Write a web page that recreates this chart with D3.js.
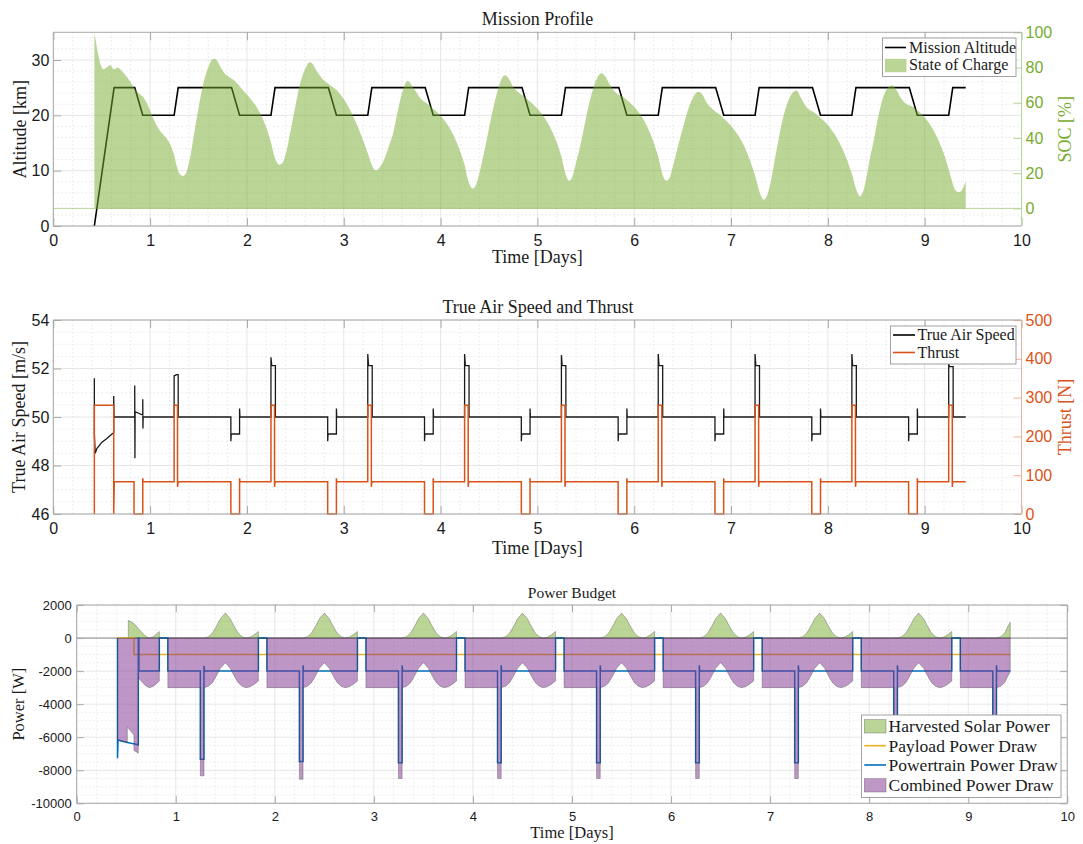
<!DOCTYPE html>
<html>
<head>
<meta charset="utf-8">
<script src="https://cdn.jsdelivr.net/npm/d3@7"></script>
<style>
  body { margin: 0; background: #fff; }
</style>
</head>
<body>
<script>
// ---- tick labels ----
const dayTicks = [0, 1, 2, 3, 4, 5, 6, 7, 8, 9, 10];
const altTicks = [0, 10, 20, 30];
const socTicks = [0, 20, 40, 60, 80, 100];
const tasTicks = [46, 48, 50, 52, 54];
const thrustTicks = [0, 100, 200, 300, 400, 500];
const powerTicks = [-10000, -8000, -6000, -4000, -2000, 0, 2000];

// ---- mission altitude [km] ----
const altDays = [0.424, 0.628, 0.841, 0.924, 1.248, 1.29, 1.841, 1.924, 2.248, 2.29, 2.841, 2.924,
  3.248, 3.29, 3.841, 3.924, 4.248, 4.29, 4.841, 4.924, 5.248, 5.29, 5.841, 5.924, 6.248, 6.29,
  6.841, 6.924, 7.248, 7.29, 7.841, 7.924, 8.248, 8.29, 8.841, 8.924, 9.248, 9.29, 9.424];
const altKm = [0, 25, 25, 20, 20, 25, 25, 20, 20, 25, 25, 20, 20, 25, 25, 20, 20, 25, 25, 20, 20,
  25, 25, 20, 20, 25, 25, 20, 20, 25, 25, 20, 20, 25, 25, 20, 20, 25, 25];

// ---- state of charge [%] ----
const socDays = [
  0.424, 0.517, 0.55, 0.586, 0.628, 0.666, 0.70, 0.759, 0.80, 0.845, 0.88, 0.931, 1.069, 1.245,
  1.27, 1.30, 1.338, 1.37, 1.41, 1.45, 1.50, 1.55, 1.60, 1.64, 1.665, 1.69, 1.73, 1.78, 1.82, 1.86, 1.93,
  2.25, 2.276, 2.30, 2.338, 2.37, 2.41, 2.45, 2.50, 2.55, 2.60, 2.648, 2.68, 2.72, 2.78, 2.82, 2.86, 2.93,
  3.25, 3.28, 3.31, 3.335, 3.36, 3.42, 3.47, 3.51, 3.56, 3.61, 3.662, 3.70, 3.75, 3.80, 3.85, 3.886,
  4.248, 4.27, 4.30, 4.334, 4.37, 4.41, 4.45, 4.49, 4.54, 4.59, 4.63, 4.662, 4.70, 4.75, 4.817, 4.886,
  5.248, 5.27, 5.30, 5.328, 5.36, 5.40, 5.44, 5.47, 5.52, 5.57, 5.62, 5.662, 5.70, 5.75, 5.817, 5.903,
  6.248, 6.27, 6.30, 6.334, 6.37, 6.41, 6.46, 6.507, 6.55, 6.60, 6.662, 6.70, 6.75, 6.817, 6.886,
  7.252, 7.28, 7.31, 7.338, 7.37, 7.41, 7.45, 7.49, 7.54, 7.59, 7.64, 7.676, 7.72, 7.786, 7.855,
  8.252, 8.28, 8.31, 8.331, 8.36, 8.40, 8.44, 8.476, 8.52, 8.57, 8.62, 8.666, 8.70, 8.75, 8.80, 8.872,
  9.25, 9.28, 9.31, 9.345, 9.37, 9.40, 9.424
];
const socPct = [
  100, 79, 80, 81.5, 79, 80, 78.5, 74.8, 71.5, 67.7, 65.5, 63, 47, 31,
  25, 20, 18.5, 20, 28, 41, 57, 71, 80, 84.5, 85, 84, 80, 76, 74.5, 73, 69,
  37, 31, 27, 24.8, 26, 33, 44, 58, 71, 79, 83, 82, 78, 73.5, 71.5, 70, 67,
  31, 26, 22.5, 21.5, 22.5, 28, 36, 42.7, 56, 67, 72.5, 70, 66, 62, 60, 58.5,
  24.8, 19, 13.5, 11.3, 14, 22, 32, 42.7, 56, 67, 73.5, 75.6, 74, 69, 65.4, 62.6,
  29.5, 24, 18, 15.7, 18, 26, 35, 42.7, 56, 67, 74.5, 76.7, 75, 70, 65.4, 62.6,
  29.5, 24, 18, 15.7, 18, 26, 37, 46.5, 55, 62, 66.2, 65, 60, 56, 53,
  18, 12, 7, 4.9, 7, 15, 27, 39, 52, 61, 66, 67, 63, 57, 54.6,
  19, 13, 8.5, 6.8, 9, 18, 30, 39, 52, 63, 68.5, 70, 68, 63, 59.7, 57.8,
  22, 16, 11, 9.3, 9.5, 12, 15.3
];

// ---- true air speed [m/s] ----
const tasDays = [
  0.424, 0.424, 0.433, 0.45, 0.50, 0.55, 0.60, 0.624, 0.624, 0.628, 0.841, 0.841, 0.843, 0.845, 0.924, 0.924, 0.926, 0.928,
  1.248, 1.248, 1.265, 1.268, 1.29, 1.29,
  1.834, 1.834, 1.838, 1.924, 1.924, 1.928, 2.248, 2.248, 2.256, 2.294, 2.294,
  2.834, 2.834, 2.838, 2.924, 2.924, 2.928, 3.248, 3.248, 3.256, 3.294, 3.294,
  3.834, 3.834, 3.838, 3.924, 3.924, 3.928, 4.248, 4.248, 4.256, 4.294, 4.294,
  4.834, 4.834, 4.838, 4.924, 4.924, 4.928, 5.248, 5.248, 5.256, 5.294, 5.294,
  5.834, 5.834, 5.838, 5.924, 5.924, 5.928, 6.248, 6.248, 6.256, 6.294, 6.294,
  6.834, 6.834, 6.838, 6.924, 6.924, 6.928, 7.248, 7.248, 7.256, 7.294, 7.294,
  7.834, 7.834, 7.838, 7.924, 7.924, 7.928, 8.248, 8.248, 8.256, 8.294, 8.294,
  8.834, 8.834, 8.838, 8.924, 8.924, 8.928, 9.248, 9.248, 9.256, 9.294, 9.294, 9.424
];
const tasMs = [
  51.6, 49.3, 48.5, 48.7, 48.95, 49.1, 49.28, 49.35, 50.87, 50, 50, 51.3, 48.3, 50.22, 50.08, 50.73, 49.53, 50,
  50, 51.7, 51.72, 51.75, 51.75, 50,
  50, 49.0, 49.3, 49.3, 50.35, 50, 50, 52.46, 52.12, 52.12, 50,
  50, 49.0, 49.3, 49.3, 50.35, 50, 50, 52.6, 52.12, 52.12, 50,
  50, 49.0, 49.3, 49.3, 50.35, 50, 50, 52.6, 52.12, 52.12, 50,
  50, 49.0, 49.3, 49.3, 50.35, 50, 50, 52.55, 52.12, 52.12, 50,
  50, 49.0, 49.3, 49.3, 50.35, 50, 50, 52.6, 52.12, 52.12, 50,
  50, 49.0, 49.3, 49.3, 50.35, 50, 50, 52.6, 52.12, 52.12, 50,
  50, 49.0, 49.3, 49.3, 50.35, 50, 50, 52.6, 52.12, 52.12, 50,
  50, 49.0, 49.3, 49.3, 50.35, 50, 50, 52.19, 52.08, 52.08, 50, 50
];

// ---- thrust [N] ----
const thrustDays = [
  0.424, 0.424, 0.624, 0.624, 0.63, 0.834, 0.834, 0.924, 0.924, 0.928,
  1.248, 1.248, 1.283, 1.283, 1.29,
  1.834, 1.834, 1.924, 1.924, 1.928, 2.248, 2.248, 2.285, 2.285, 2.29,
  2.834, 2.834, 2.924, 2.924, 2.928, 3.248, 3.248, 3.285, 3.285, 3.29,
  3.834, 3.834, 3.924, 3.924, 3.928, 4.248, 4.248, 4.285, 4.285, 4.29,
  4.834, 4.834, 4.924, 4.924, 4.928, 5.248, 5.248, 5.285, 5.285, 5.29,
  5.834, 5.834, 5.924, 5.924, 5.928, 6.248, 6.248, 6.285, 6.285, 6.29,
  6.834, 6.834, 6.924, 6.924, 6.928, 7.248, 7.248, 7.285, 7.285, 7.29,
  7.834, 7.834, 7.924, 7.924, 7.928, 8.248, 8.248, 8.285, 8.285, 8.29,
  8.834, 8.834, 8.924, 8.924, 8.928, 9.248, 9.248, 9.285, 9.285, 9.29, 9.424
];
const thrustN = [
  0, 280, 280, 0, 83, 83, 0, 0, 92, 83,
  83, 280, 280, 70, 83,
  83, 0, 0, 92, 83, 83, 280, 280, 70, 83,
  83, 0, 0, 92, 83, 83, 280, 280, 70, 83,
  83, 0, 0, 92, 83, 83, 280, 280, 70, 83,
  83, 0, 0, 92, 83, 83, 280, 280, 70, 83,
  83, 0, 0, 92, 83, 83, 280, 280, 70, 83,
  83, 0, 0, 92, 83, 83, 280, 280, 70, 83,
  83, 0, 0, 92, 83, 83, 280, 280, 70, 83,
  83, 0, 0, 92, 83, 83, 280, 280, 70, 83, 83
];

// ---- power budget [W] ----
const solarDays = [
  0.521, 0.521, 0.55, 0.59, 0.63, 0.67, 0.70, 0.735, 0.77, 0.80, 0.834, 0.834,
  1.285, 1.33, 1.37, 1.41, 1.45, 1.50, 1.55, 1.59, 1.63, 1.67, 1.71, 1.75, 1.79, 1.834, 1.834,
  2.285, 2.33, 2.37, 2.41, 2.45, 2.50, 2.55, 2.59, 2.63, 2.67, 2.71, 2.75, 2.79, 2.834, 2.834,
  3.285, 3.33, 3.37, 3.41, 3.45, 3.50, 3.55, 3.59, 3.63, 3.67, 3.71, 3.75, 3.79, 3.834, 3.834,
  4.285, 4.33, 4.37, 4.41, 4.45, 4.50, 4.55, 4.59, 4.63, 4.67, 4.71, 4.75, 4.79, 4.834, 4.834,
  5.285, 5.33, 5.37, 5.41, 5.45, 5.50, 5.55, 5.59, 5.63, 5.67, 5.71, 5.75, 5.79, 5.834, 5.834,
  6.285, 6.33, 6.37, 6.41, 6.45, 6.50, 6.55, 6.59, 6.63, 6.67, 6.71, 6.75, 6.79, 6.834, 6.834,
  7.285, 7.33, 7.37, 7.41, 7.45, 7.50, 7.55, 7.59, 7.63, 7.67, 7.71, 7.75, 7.79, 7.834, 7.834,
  8.285, 8.33, 8.37, 8.41, 8.45, 8.50, 8.55, 8.59, 8.63, 8.67, 8.71, 8.75, 8.79, 8.834, 8.834,
  9.285, 9.33, 9.37, 9.40, 9.424, 9.424
];
const solarW = [
  0, 1067, 1000, 800, 520, 260, 100, 0, 70, 210, 400, 0,
  0, 80, 300, 700, 1170, 1510, 1170, 700, 300, 80, 0, 50, 190, 400, 0,
  0, 80, 300, 700, 1170, 1510, 1170, 700, 300, 80, 0, 50, 190, 400, 0,
  0, 80, 300, 700, 1170, 1510, 1170, 700, 300, 80, 0, 50, 190, 400, 0,
  0, 80, 300, 700, 1170, 1510, 1170, 700, 300, 80, 0, 50, 190, 400, 0,
  0, 80, 300, 700, 1170, 1510, 1170, 700, 300, 80, 0, 50, 190, 400, 0,
  0, 80, 300, 700, 1170, 1510, 1170, 700, 300, 80, 0, 50, 190, 400, 0,
  0, 80, 300, 700, 1170, 1510, 1170, 700, 300, 80, 0, 50, 190, 400, 0,
  0, 80, 300, 700, 1170, 1510, 1170, 700, 300, 80, 0, 50, 190, 400, 0,
  0, 80, 320, 700, 950, 0
];

const payloadDays = [0.412, 0.578, 0.578, 9.424];
const payloadW = [0, 0, -1000, -1000];

const powertrainDays = [
  0.412, 0.412, 0.418, 0.45, 0.50, 0.55, 0.60, 0.622, 0.622, 0.628, 0.628, 0.834, 0.834, 0.92, 0.92,
  1.248, 1.248, 1.285, 1.285, 1.29, 1.834, 1.834, 1.92, 1.92,
  2.248, 2.248, 2.285, 2.285, 2.29, 2.834, 2.834, 2.92, 2.92,
  3.248, 3.248, 3.285, 3.285, 3.29, 3.834, 3.834, 3.92, 3.92,
  4.248, 4.248, 4.285, 4.285, 4.29, 4.834, 4.834, 4.92, 4.92,
  5.248, 5.248, 5.285, 5.285, 5.29, 5.834, 5.834, 5.92, 5.92,
  6.248, 6.248, 6.285, 6.285, 6.29, 6.834, 6.834, 6.92, 6.92,
  7.248, 7.248, 7.285, 7.285, 7.29, 7.834, 7.834, 7.92, 7.92,
  8.248, 8.248, 8.285, 8.285, 8.29, 8.834, 8.834, 8.92, 8.92,
  9.248, 9.248, 9.285, 9.285, 9.29, 9.424
];
const powertrainW = [
  0, -7270, -6160, -6230, -6300, -6370, -6430, -6470, 0, 0, -2000, -2000, 0, 0, -2000,
  -2000, -7330, -7330, -1680, -2000, -2000, 0, 0, -2000,
  -2000, -7475, -7475, -1650, -2000, -2000, 0, 0, -2000,
  -2000, -7540, -7540, -1650, -2000, -2000, 0, 0, -2000,
  -2000, -7540, -7540, -1650, -2000, -2000, 0, 0, -2000,
  -2000, -7540, -7540, -1650, -2000, -2000, 0, 0, -2000,
  -2000, -7540, -7540, -1650, -2000, -2000, 0, 0, -2000,
  -2000, -7540, -7540, -1650, -2000, -2000, 0, 0, -2000,
  -2000, -7540, -7540, -1650, -2000, -2000, 0, 0, -2000,
  -2000, -7540, -7540, -1650, -2000, -2000
];

const combinedDays = [
  0.412, 0.412, 0.45, 0.511, 0.511, 0.54, 0.578, 0.578, 0.60, 0.622, 0.622, 0.67, 0.70, 0.735, 0.77, 0.80, 0.834, 0.834,
  0.92, 0.92, 1.248, 1.248, 1.285, 1.285, 1.33, 1.37, 1.41, 1.45, 1.50, 1.55, 1.59, 1.63, 1.67, 1.71, 1.75, 1.79, 1.834, 1.834,
  1.92, 1.92, 2.248, 2.248, 2.285, 2.285, 2.33, 2.37, 2.41, 2.45, 2.50, 2.55, 2.59, 2.63, 2.67, 2.71, 2.75, 2.79, 2.834, 2.834,
  2.92, 2.92, 3.248, 3.248, 3.285, 3.285, 3.33, 3.37, 3.41, 3.45, 3.50, 3.55, 3.59, 3.63, 3.67, 3.71, 3.75, 3.79, 3.834, 3.834,
  3.92, 3.92, 4.248, 4.248, 4.285, 4.285, 4.33, 4.37, 4.41, 4.45, 4.50, 4.55, 4.59, 4.63, 4.67, 4.71, 4.75, 4.79, 4.834, 4.834,
  4.92, 4.92, 5.248, 5.248, 5.285, 5.285, 5.33, 5.37, 5.41, 5.45, 5.50, 5.55, 5.59, 5.63, 5.67, 5.71, 5.75, 5.79, 5.834, 5.834,
  5.92, 5.92, 6.248, 6.248, 6.285, 6.285, 6.33, 6.37, 6.41, 6.45, 6.50, 6.55, 6.59, 6.63, 6.67, 6.71, 6.75, 6.79, 6.834, 6.834,
  6.92, 6.92, 7.248, 7.248, 7.285, 7.285, 7.33, 7.37, 7.41, 7.45, 7.50, 7.55, 7.59, 7.63, 7.67, 7.71, 7.75, 7.79, 7.834, 7.834,
  7.92, 7.92, 8.248, 8.248, 8.285, 8.285, 8.33, 8.37, 8.41, 8.45, 8.50, 8.55, 8.59, 8.63, 8.67, 8.71, 8.75, 8.79, 8.834, 8.834,
  8.92, 8.92, 9.248, 9.248, 9.285, 9.285, 9.33, 9.37, 9.40, 9.424, 9.424
];
const combinedW = [
  0, -6160, -6230, -6300, -5360, -5600, -5860, -6800, -6880, -6970, -2380, -2740, -2900, -3000, -2930, -2790, -2600, 0,
  0, -3000, -3000, -8340, -8340, -3000, -2920, -2700, -2300, -1830, -1490, -1830, -2300, -2700, -2920, -3000, -2950, -2810, -2600, 0,
  0, -3000, -3000, -8545, -8545, -3000, -2920, -2700, -2300, -1830, -1490, -1830, -2300, -2700, -2920, -3000, -2950, -2810, -2600, 0,
  0, -3000, -3000, -8500, -8500, -3000, -2920, -2700, -2300, -1830, -1490, -1830, -2300, -2700, -2920, -3000, -2950, -2810, -2600, 0,
  0, -3000, -3000, -8500, -8500, -3000, -2920, -2700, -2300, -1830, -1490, -1830, -2300, -2700, -2920, -3000, -2950, -2810, -2600, 0,
  0, -3000, -3000, -8500, -8500, -3000, -2920, -2700, -2300, -1830, -1490, -1830, -2300, -2700, -2920, -3000, -2950, -2810, -2600, 0,
  0, -3000, -3000, -8500, -8500, -3000, -2920, -2700, -2300, -1830, -1490, -1830, -2300, -2700, -2920, -3000, -2950, -2810, -2600, 0,
  0, -3000, -3000, -8500, -8500, -3000, -2920, -2700, -2300, -1830, -1490, -1830, -2300, -2700, -2920, -3000, -2950, -2810, -2600, 0,
  0, -3000, -3000, -8500, -8500, -3000, -2920, -2700, -2300, -1830, -1490, -1830, -2300, -2700, -2920, -3000, -2950, -2810, -2600, 0,
  0, -3000, -3000, -8500, -8500, -3000, -2920, -2680, -2300, -2050, 0
];

// ---- colours ----
const green = '#77ac30';
const orange = '#d95319';
const blue = '#0072bd';
const yellow = '#edb120';
const purple = '#7e2f8e';
const frameColor = '#a8a8a8';
const SANS = "'Liberation Sans', Arial, sans-serif";
const SERIF = "'Liberation Serif', 'Times New Roman', serif";

const zip = (xs, ys) => xs.map((d, i) => [d, ys[i]]);
const minorSteps = (lo, hi, step, major) =>
  d3.range(lo, hi + 1e-9, step).filter(v => !major.some(m => Math.abs(m - v) < 1e-6));

const svg = d3.select('body').append('svg')
  .attr('width', 1083)
  .attr('height', 844)
  .style('display', 'block');

// draws grid + frame + axes; returns the layer that takes the data
function panel(cfg) {
  const { x, y, yMajor, yMinor, xMinor, tick, font, pad } = cfg;
  const [xl, xr] = x.range();
  const [yb, yt] = y.range();
  const root = svg.append('g');
  const grid = root.append('g');
  const plot = root.append('g');
  const axes = root.append('g');

  grid.append('g').selectAll('line').data(xMinor).join('line')
    .attr('x1', d => x(d)).attr('x2', d => x(d)).attr('y1', yb).attr('y2', yt);
  grid.append('g').selectAll('line').data(yMinor).join('line')
    .attr('x1', xl).attr('x2', xr).attr('y1', d => y(d)).attr('y2', d => y(d));
  grid.selectAll('line')
    .attr('stroke', '#e8e8e8').attr('stroke-width', 0.8).attr('stroke-dasharray', '2,2');

  const maj = grid.append('g');
  maj.selectAll('.vx').data(dayTicks).join('line')
    .attr('x1', d => x(d)).attr('x2', d => x(d)).attr('y1', yb).attr('y2', yt);
  maj.selectAll('.hy').data(yMajor).join('line')
    .attr('x1', xl).attr('x2', xr).attr('y1', d => y(d)).attr('y2', d => y(d));
  maj.selectAll('line').attr('stroke', '#e0e0e0').attr('stroke-width', 0.8);

  const style = (g, color, textColor) => {
    g.attr('color', color).attr('font-family', SANS).attr('font-size', font);
    g.select('.domain').remove();
    g.selectAll('text').attr('fill', textColor);
  };

  axes.append('g').attr('transform', `translate(0,${yb})`)
    .call(d3.axisBottom(x).tickValues(dayTicks).tickSize(-tick).tickPadding(pad.x).tickFormat(d => d))
    .call(g => style(g, frameColor, '#1a1a1a'));
  axes.append('g').attr('transform', `translate(0,${yt})`)
    .call(d3.axisTop(x).tickValues(dayTicks).tickSize(-tick).tickFormat(''))
    .call(g => style(g, frameColor, '#1a1a1a'));
  axes.append('g').attr('transform', `translate(${xl},0)`)
    .call(d3.axisLeft(y).tickValues(yMajor).tickSize(-tick).tickPadding(pad.y).tickFormat(d => String(d)))
    .call(g => style(g, frameColor, '#1a1a1a'));

  let rightColor = frameColor;
  if (cfg.right) {
    rightColor = cfg.right.color;
    axes.append('g').attr('transform', `translate(${xr},0)`)
      .call(d3.axisRight(cfg.right.scale).tickValues(cfg.right.ticks).tickSize(-tick).tickPadding(pad.y).tickFormat(d => String(d)))
      .call(g => style(g, cfg.right.light, cfg.right.color));
  } else {
    axes.append('g').attr('transform', `translate(${xr},0)`)
      .call(d3.axisRight(y).tickValues(yMajor).tickSize(-tick).tickFormat(''))
      .call(g => style(g, frameColor, '#1a1a1a'));
  }

  axes.append('path')
    .attr('d', `M${xr},${yt}H${xl}V${yb}H${xr}`)
    .attr('fill', 'none').attr('stroke', frameColor);
  axes.append('line')
    .attr('x1', xr).attr('x2', xr).attr('y1', yt).attr('y2', yb)
    .attr('stroke', cfg.right ? cfg.right.light : frameColor);

  return { plot, axes };
}

function label(txt, x, y, size, opts = {}) {
  const t = svg.append('text')
    .attr('font-family', SERIF)
    .attr('font-size', size)
    .attr('fill', opts.color || '#1a1a1a')
    .attr('text-anchor', 'middle')
    .text(txt);
  if (opts.rotate) t.attr('transform', `translate(${x},${y}) rotate(-90)`);
  else t.attr('x', x).attr('y', y);
  return t;
}

function legend(box, rows, size) {
  const g = svg.append('g');
  g.append('rect')
    .attr('x', box[0]).attr('y', box[1]).attr('width', box[2]).attr('height', box[3])
    .attr('fill', '#fff').attr('stroke', '#8a8a8a').attr('stroke-width', 0.8);
  rows.forEach(r => {
    if (r.type === 'line') {
      g.append('line')
        .attr('x1', r.x0).attr('x2', r.x1).attr('y1', r.cy).attr('y2', r.cy)
        .attr('stroke', r.color).attr('stroke-width', 1.6);
    } else {
      g.append('rect')
        .attr('x', r.x0).attr('y', r.cy - 6.7).attr('width', r.x1 - r.x0).attr('height', 13.4)
        .attr('fill', r.color).attr('fill-opacity', 0.5)
        .attr('stroke', '#555').attr('stroke-opacity', r.edge ? 0.6 : 0).attr('stroke-width', 0.6);
    }
    g.append('text')
      .attr('x', r.tx).attr('y', r.cy + r.dy)
      .attr('font-family', SERIF).attr('font-size', size).attr('fill', '#1a1a1a')
      .text(r.label);
  });
}

// ======== panel 1: mission profile ========
const x1 = d3.scaleLinear().domain([0, 10]).range([53.3, 1021.5]);
const yAlt = d3.scaleLinear().domain([0, 35]).range([226, 32.3]);
const ySoc = d3.scaleLinear().domain([-10, 100]).range([226, 32.3]);

const p1 = panel({
  x: x1, y: yAlt, yMajor: altTicks,
  yMinor: minorSteps(0, 35, 2, altTicks),
  xMinor: minorSteps(0, 10, 0.2, dayTicks),
  tick: 8, font: 16, pad: { x: 8.6, y: 4 },
  right: { scale: ySoc, ticks: socTicks, color: green, light: '#b9d696' }
});

p1.plot.append('path')
  .datum(zip(altDays, altKm))
  .attr('d', d3.line().x(d => x1(d[0])).y(d => yAlt(d[1])))
  .attr('fill', 'none').attr('stroke', '#000').attr('stroke-width', 1.6);

p1.plot.append('line')
  .attr('x1', x1(0)).attr('x2', x1(10)).attr('y1', ySoc(0)).attr('y2', ySoc(0))
  .attr('stroke', green).attr('stroke-opacity', 0.5).attr('stroke-width', 1);

p1.plot.append('path')
  .datum(zip(socDays, socPct))
  .attr('d', d3.area().x(d => x1(d[0])).y0(ySoc(0)).y1(d => ySoc(d[1])).curve(d3.curveMonotoneX))
  .attr('fill', green).attr('fill-opacity', 0.5);

label('Mission Profile', 537.4, 25, 18);
label('Time [Days]', 537.4, 263.3, 18);
label('Altitude [km]', 25.5, 129.2, 18, { rotate: true });
label('SOC [%]', 1071, 129.2, 18, { rotate: true, color: green });

legend([882.5, 38, 133.5, 38.5], [
  { type: 'line', color: '#000', label: 'Mission Altitude', x0: 885, x1: 906, cy: 47.5, tx: 909, dy: 5.3 },
  { type: 'patch', color: green, label: 'State of Charge', x0: 885, x1: 906.5, cy: 65.5, tx: 909, dy: 4 }
], 16);

// ======== panel 2: true air speed and thrust ========
const x2 = d3.scaleLinear().domain([0, 10]).range([53.3, 1021.5]);
const yTas = d3.scaleLinear().domain([46, 54]).range([514, 320]);
const yThr = d3.scaleLinear().domain([0, 500]).range([514, 320]);

const p2 = panel({
  x: x2, y: yTas, yMajor: tasTicks,
  yMinor: minorSteps(46, 54, 0.5, tasTicks),
  xMinor: minorSteps(0, 10, 0.2, dayTicks),
  tick: 8, font: 16, pad: { x: 8.6, y: 4 },
  right: { scale: yThr, ticks: thrustTicks, color: orange, light: '#f0b096' }
});

p2.plot.append('path')
  .datum(zip(tasDays, tasMs))
  .attr('d', d3.line().x(d => x2(d[0])).y(d => yTas(d[1])))
  .attr('fill', 'none').attr('stroke', '#1a1a1a').attr('stroke-width', 1.3);

p2.plot.append('path')
  .datum(zip(thrustDays, thrustN))
  .attr('d', d3.line().x(d => x2(d[0])).y(d => yThr(d[1])))
  .attr('fill', 'none').attr('stroke', orange).attr('stroke-width', 1.5);

label('True Air Speed and Thrust', 538, 313, 18);
label('Time [Days]', 537.4, 554, 18);
label('True Air Speed [m/s]', 24.5, 417, 18, { rotate: true });
label('Thrust [N]', 1071, 417, 18, { rotate: true, color: orange });

legend([890.5, 326, 125.5, 38], [
  { type: 'line', color: '#000', label: 'True Air Speed', x0: 893, x1: 915, cy: 335, tx: 917.5, dy: 5.3 },
  { type: 'line', color: orange, label: 'Thrust', x0: 893, x1: 915, cy: 352.5, tx: 917.5, dy: 5.3 }
], 16);

// ======== panel 3: power budget ========
const x3 = d3.scaleLinear().domain([0, 10]).range([76.7, 1067.3]);
const yPow = d3.scaleLinear().domain([-10000, 2000]).range([803.3, 605]);

const p3 = panel({
  x: x3, y: yPow, yMajor: powerTicks,
  yMinor: minorSteps(-10000, 2000, 500, powerTicks),
  xMinor: minorSteps(0, 10, 0.2, dayTicks),
  tick: 7, font: 13, pad: { x: 8.5, y: 5 }
});

const powerArea = d3.area().x(d => x3(d[0])).y0(yPow(0)).y1(d => yPow(d[1]));
const powerLine = d3.line().x(d => x3(d[0])).y(d => yPow(d[1]));

p3.plot.append('line')
  .attr('x1', x3(0)).attr('x2', x3(10)).attr('y1', yPow(0)).attr('y2', yPow(0))
  .attr('stroke', '#6e6e6e').attr('stroke-width', 0.8);

p3.plot.append('path')
  .datum(zip(solarDays, solarW))
  .attr('d', powerArea)
  .attr('fill', green).attr('fill-opacity', 0.5)
  .attr('stroke', '#333').attr('stroke-opacity', 0.55).attr('stroke-width', 0.6);

p3.plot.append('path')
  .datum(zip(payloadDays, payloadW))
  .attr('d', powerLine)
  .attr('fill', 'none').attr('stroke', yellow).attr('stroke-width', 1.5);

p3.plot.append('path')
  .datum(zip(powertrainDays, powertrainW))
  .attr('d', powerLine)
  .attr('fill', 'none').attr('stroke', blue).attr('stroke-width', 1.5);

p3.plot.append('path')
  .datum(zip(combinedDays, combinedW))
  .attr('d', powerArea)
  .attr('fill', purple).attr('fill-opacity', 0.5)
  .attr('stroke', '#333').attr('stroke-opacity', 0.55).attr('stroke-width', 0.6);

label('Power Budget', 572, 597.5, 15.5);
label('Time [Days]', 572, 837.5, 16.5);
label('Power [W]', 24, 704.2, 16.5, { rotate: true });

legend([861.5, 715, 199.5, 82.5], [
  { type: 'patch', edge: true, color: green, label: 'Harvested Solar Power', x0: 864.3, x1: 886, cy: 726.3, tx: 888.5, dy: 5.8 },
  { type: 'line', color: yellow, label: 'Payload Power Draw', x0: 864.3, x1: 886, cy: 745.7, tx: 888.5, dy: 5.8 },
  { type: 'line', color: blue, label: 'Powertrain Power Draw', x0: 864.3, x1: 886, cy: 765, tx: 888.5, dy: 5.8 },
  { type: 'patch', edge: true, color: purple, label: 'Combined Power Draw', x0: 864.3, x1: 886, cy: 785.3, tx: 888.5, dy: 5.8 }
], 17.5);
</script>
</body>
</html>
